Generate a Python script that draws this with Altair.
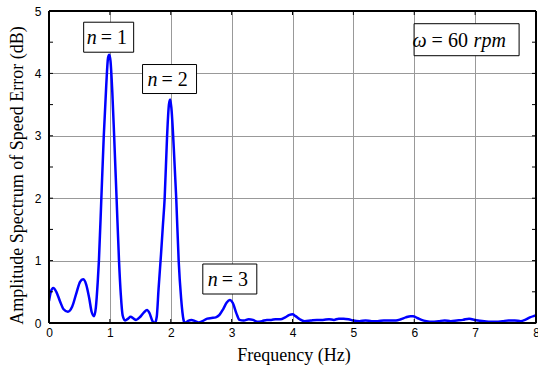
import altair as alt
import pandas as pd

# Spectrum curve (frequency in Hz, amplitude in dB)
freq = [0.00, 0.03, 0.07, 0.12, 0.18, 0.24, 0.31, 0.38, 0.45, 0.51, 0.56, 0.61, 0.66, 0.70, 0.74,
        0.77, 0.80, 0.82, 0.86, 0.90, 0.94, 0.97, 0.99, 1.01, 1.04, 1.07, 1.11, 1.15, 1.18, 1.21,
        1.25, 1.30, 1.34, 1.39, 1.43, 1.50, 1.56, 1.61, 1.65, 1.70, 1.74, 1.77, 1.80, 1.84, 1.87,
        1.90, 1.94, 1.97, 1.99, 2.01, 2.05, 2.09, 2.13, 2.17, 2.21, 2.23, 2.28, 2.34, 2.40, 2.46,
        2.52, 2.60, 2.67, 2.74, 2.80, 2.86, 2.92, 2.97, 3.02, 3.08, 3.13, 3.20, 3.28, 3.35, 3.42,
        3.50, 3.58, 3.65, 3.72, 3.80, 3.88, 3.95, 4.00, 4.05, 4.12, 4.20, 4.30, 4.40, 4.50, 4.60,
        4.68, 4.76, 4.84, 4.92, 5.00, 5.10, 5.20, 5.30, 5.40, 5.50, 5.60, 5.70, 5.78, 5.86, 5.94,
        5.98, 6.05, 6.12, 6.20, 6.30, 6.40, 6.50, 6.60, 6.70, 6.80, 6.90, 6.95, 7.05, 7.15, 7.25,
        7.35, 7.45, 7.55, 7.65, 7.75, 7.82, 7.90, 7.96, 8.00]
amp = [0.35, 0.50, 0.56, 0.50, 0.35, 0.22, 0.18, 0.26, 0.48, 0.66, 0.70, 0.62, 0.40, 0.18, 0.11,
       0.25, 0.65, 1.00, 2.00, 3.00, 3.80, 4.25, 4.30, 4.20, 3.70, 3.00, 2.00, 1.00, 0.45, 0.12,
       0.04, 0.07, 0.10, 0.07, 0.05, 0.10, 0.17, 0.21, 0.16, 0.03, 0.00, 0.10, 0.55, 1.10, 1.55,
       2.00, 3.00, 3.50, 3.58, 3.45, 2.80, 2.00, 1.00, 0.40, 0.05, 0.00, 0.03, 0.05, 0.03, 0.01,
       0.03, 0.07, 0.08, 0.09, 0.13, 0.22, 0.33, 0.37, 0.32, 0.15, 0.05, 0.04, 0.06, 0.05, 0.02,
       0.03, 0.05, 0.05, 0.06, 0.06, 0.09, 0.13, 0.14, 0.11, 0.06, 0.03, 0.04, 0.05, 0.05, 0.06,
       0.05, 0.07, 0.07, 0.06, 0.04, 0.03, 0.04, 0.03, 0.03, 0.04, 0.04, 0.04, 0.06, 0.09, 0.11,
       0.11, 0.08, 0.05, 0.03, 0.02, 0.03, 0.04, 0.03, 0.04, 0.05, 0.07, 0.06, 0.04, 0.03, 0.02,
       0.02, 0.03, 0.04, 0.04, 0.03, 0.05, 0.09, 0.11, 0.12]

# Annotations
ann_f = [0.98, 1.98, 2.97, 6.86]
ann_y = [4.58, 3.91, 0.705, 4.54]
ann_italic = ["n", "n", "n", "\u03c9"]
ann_rest = ["= 1", "= 2", "= 3", "= 60"]
ann_unit = ["", "", "", "rpm"]

x_ticks = [0, 1, 2, 3, 4, 5, 6, 7, 8]
y_ticks = [0, 0.5, 1, 1.5, 2, 2.5, 3, 3.5, 4, 4.5, 5]

df = pd.DataFrame({"f": freq, "a": amp})
box_shapes = [
    "M-0.5,-0.3L0.5,-0.3L0.5,0.3L-0.5,0.3Z",
    "M-0.54,-0.29L0.54,-0.29L0.54,0.29L-0.54,0.29Z",
    "M-0.54,-0.3L0.54,-0.3L0.54,0.3L-0.54,0.3Z",
    "M-1.05,-0.32L1.05,-0.32L1.05,0.32L-1.05,0.32Z",
]
ann = pd.DataFrame({"f": ann_f, "a": ann_y, "it": ann_italic, "rest": ann_rest,
                    "unit": ann_unit, "shape": box_shapes})
xt = pd.DataFrame({"v": x_ticks})
yt = pd.DataFrame({"v": y_ticks})

W, H = 487, 312
TL = 4
SERIF = "Liberation Serif"
FS = 20
xs = alt.Scale(domain=[0, 8], nice=False)
ys = alt.Scale(domain=[0, 5], nice=False)

x_axis = alt.Axis(values=x_ticks, grid=True, gridColor="#999999", gridWidth=1, gridOpacity=1,
                  ticks=False, domain=False, labelFont="Liberation Sans", labelFontSize=12,
                  labelColor="black", labelPadding=4, labelAngle=0,
                  labelFlush=False, labelOverlap=False,
                  labelExpr="format(datum.value, 'd')",
                  title="Frequency (Hz)", titleFont=SERIF, titleFontSize=18,
                  titleFontWeight="normal", titleColor="black", titleX=W / 2 + 1, titleY=37,
                  titleBaseline="alphabetic", titleAlign="center")
y_axis = alt.Axis(values=y_ticks, grid=True, gridColor="#999999", gridWidth=1, gridOpacity=1,
                  ticks=False, domain=False, labelFont="Liberation Sans", labelFontSize=12,
                  labelColor="black", labelPadding=8, labelFlush=False, labelOverlap=False,
                  labelExpr="datum.value % 1 == 0 ? format(datum.value, 'd') : ''",
                  title="Amplitude Spectrum of Speed Error (dB)", titleFont=SERIF,
                  titleFontSize=18, titleFontWeight="normal", titleColor="black",
                  titleX=-32, titleY=H / 2 + 8, titleAngle=270, titleBaseline="middle",
                  titleAlign="center")

line = alt.Chart(df).mark_line(color="#0000FF", strokeWidth=2.5, interpolate="monotone",
                               clip=True).encode(
    x=alt.X("f:Q", scale=xs, axis=x_axis),
    y=alt.Y("a:Q", scale=ys, axis=y_axis),
)

# inward tick marks on all four sides
xtick_b = alt.Chart(xt).mark_rule(color="black", strokeWidth=1).encode(
    x=alt.X("v:Q", scale=xs), y=alt.value(H - TL), y2=alt.value(H))
xtick_t = alt.Chart(xt).mark_rule(color="black", strokeWidth=1).encode(
    x=alt.X("v:Q", scale=xs), y=alt.value(0), y2=alt.value(TL))
ytick_l = alt.Chart(yt).mark_rule(color="black", strokeWidth=1).encode(
    y=alt.Y("v:Q", scale=ys), x=alt.value(0), x2=alt.value(TL))
ytick_r = alt.Chart(yt).mark_rule(color="black", strokeWidth=1).encode(
    y=alt.Y("v:Q", scale=ys), x=alt.value(W - TL), x2=alt.value(W))

frame = alt.Chart(df).mark_rect(fill=None, stroke="black", strokeWidth=1).encode(
    x=alt.value(0), x2=alt.value(W), y=alt.value(0), y2=alt.value(H))

boxes = alt.Chart(ann).mark_point(filled=True, fill="white", stroke="black", strokeWidth=1,
                                  opacity=1, size=10000).encode(
    x=alt.X("f:Q", scale=xs),
    y=alt.Y("a:Q", scale=ys),
    shape=alt.Shape("shape:N", scale=None, legend=None),
)

ann_n = ann.iloc[:3]
ann_w = ann.iloc[3:]

t_it = alt.Chart(ann_n).mark_text(font=SERIF, fontStyle="italic", fontSize=FS,
                                  align="right", baseline="alphabetic", dx=-12, dy=7,
                                  color="black").encode(
    x=alt.X("f:Q", scale=xs), y=alt.Y("a:Q", scale=ys), text="it:N")
t_rest = alt.Chart(ann_n).mark_text(font=SERIF, fontSize=FS, align="left",
                                    baseline="alphabetic", dx=-8, dy=7, color="black").encode(
    x=alt.X("f:Q", scale=xs), y=alt.Y("a:Q", scale=ys), text="rest:N")

w_it = alt.Chart(ann_w).mark_text(font=SERIF, fontStyle="italic", fontSize=FS,
                                  align="right", baseline="alphabetic", dx=-40, dy=7,
                                  color="black").encode(
    x=alt.X("f:Q", scale=xs), y=alt.Y("a:Q", scale=ys), text="it:N")
w_rest = alt.Chart(ann_w).mark_text(font=SERIF, fontSize=FS, align="left",
                                    baseline="alphabetic", dx=-35, dy=7, color="black").encode(
    x=alt.X("f:Q", scale=xs), y=alt.Y("a:Q", scale=ys), text="rest:N")
w_unit = alt.Chart(ann_w).mark_text(font=SERIF, fontStyle="italic", fontSize=FS,
                                    align="left", baseline="alphabetic", dx=7, dy=7,
                                    color="black").encode(
    x=alt.X("f:Q", scale=xs), y=alt.Y("a:Q", scale=ys), text="unit:N")

chart = alt.layer(line, xtick_b, xtick_t, ytick_l, ytick_r, frame, boxes,
                  t_it, t_rest, w_it, w_rest, w_unit).properties(
    width=W, height=H,
    autosize=alt.AutoSizeParams(type="none"),
    padding={"left": 49, "top": 11, "right": 2, "bottom": 49},
    background="white",
).configure_view(stroke=None)

chart.save("out.html", embed_options={"renderer": "svg", "actions": False})
